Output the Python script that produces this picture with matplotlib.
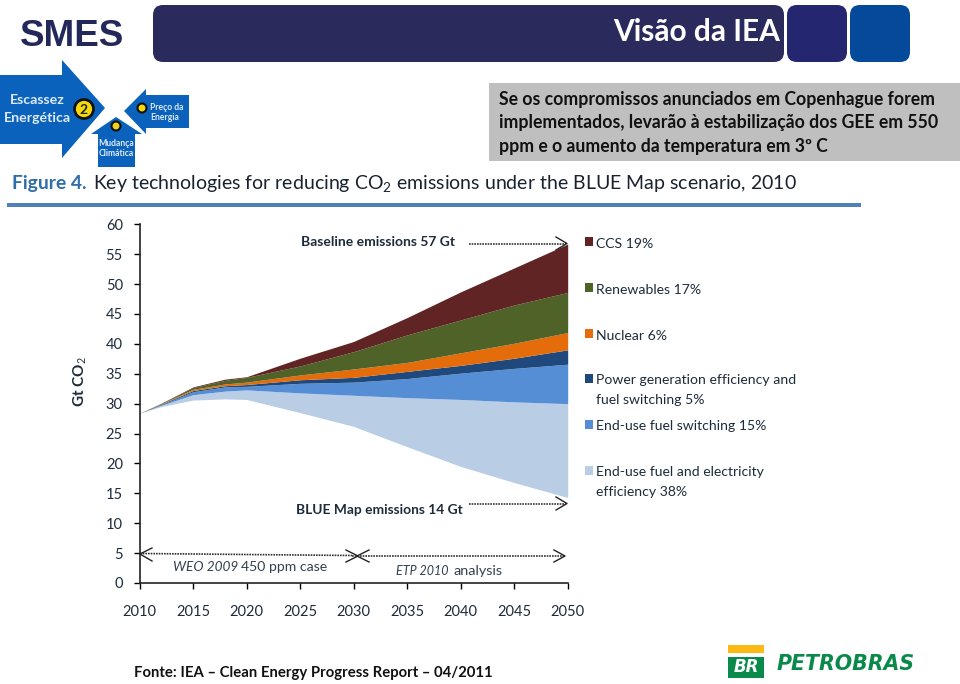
import matplotlib
matplotlib.use("Agg")
import matplotlib.pyplot as plt
from matplotlib.patches import FancyBboxPatch, Polygon, Rectangle, Circle

plt.rcParams["font.family"] = ["Lato", "DejaVu Sans"]
plt.rcParams["mathtext.fontset"] = "custom"
plt.rcParams["mathtext.rm"] = "Lato"
plt.rcParams["mathtext.default"] = "rm"

# Values, Gt CO2, upper edge of each wedge
years = [2010, 2012, 2015, 2018, 2020, 2025, 2030, 2035, 2040, 2045, 2050]
blue_map = [28.4, 29.5, 30.6, 30.8, 30.7, 28.5, 26.2, 22.8, 19.5, 16.8, 14.3]
end_use_eff = [28.4, 29.7, 31.5, 32.1, 32.3, 31.8, 31.4, 31.0, 30.7, 30.3, 30.0]
end_use_fuel = [28.4, 29.8, 32.0, 32.8, 32.9, 33.4, 33.6, 34.2, 35.1, 35.9, 36.6]
power_gen = [28.4, 29.9, 32.2, 33.0, 33.2, 34.0, 34.4, 35.4, 36.4, 37.6, 39.0]
nuclear = [28.4, 29.95, 32.4, 33.3, 33.6, 34.8, 35.8, 36.9, 38.5, 40.1, 41.9]
renewables = [28.4, 30.0, 32.7, 33.9, 34.4, 36.3, 38.7, 41.5, 44.0, 46.5, 48.6]
ccs = [28.4, 30.05, 32.8, 34.1, 34.5, 37.6, 40.4, 44.4, 48.7, 52.7, 56.7]

edges = [blue_map, end_use_eff, end_use_fuel, power_gen, nuclear, renewables, ccs]
wedge_colors = ["#b9cde5", "#558ed5", "#1f497d", "#e46c0a", "#4f6228", "#5f2423"]

legend_labels = ["CCS 19%", "Renewables 17%", "Nuclear 6%",
                 "Power generation efficiency and\nfuel switching 5%",
                 "End-use fuel switching 15%",
                 "End-use fuel and electricity\nefficiency 38%"]
legend_colors = ["#5f2423", "#4f6228", "#e46c0a", "#1f497d", "#558ed5", "#b9cde5"]
legend_y = [244, 290, 336, 381, 427, 473]

x_ticks = list(range(2010, 2051, 5))
y_ticks = list(range(0, 61, 5))

W, H = 960, 684
text_dark = "#1d2b3a"

fig = plt.figure(figsize=(W / 100, H / 100), dpi=100, facecolor="white")

# slide furniture is laid out in image pixels
bg = fig.add_axes([0, 0, 1, 1])
bg.set_xlim(0, W)
bg.set_ylim(H, 0)
bg.axis("off")

# the chart itself
left, right, top, bottom = 139.5, 567.7, 224.3, 583
ax = fig.add_axes([left / W, 1 - bottom / H, (right - left) / W, (bottom - top) / H])
ax.patch.set_alpha(0)
for low, high, color in zip(edges[:-1], edges[1:], wedge_colors):
    ax.fill_between(years, low, high, color=color, linewidth=0)
ax.set_xlim(2010, 2050)
ax.set_ylim(0, 60)
ax.spines["top"].set_visible(False)
ax.spines["right"].set_visible(False)
ax.spines["left"].set_linewidth(1.2)
ax.spines["bottom"].set_linewidth(1.2)
ax.spines["left"].set_color("#222222")
ax.spines["bottom"].set_color("#222222")
ax.set_xticks(x_ticks)
ax.set_yticks(y_ticks)
ax.tick_params(axis="x", direction="out", length=4, width=1, pad=12, labelsize=10.5, labelcolor=text_dark)
ax.tick_params(axis="y", direction="out", length=4, width=1, pad=8, labelsize=10.5, labelcolor=text_dark)
ax.set_ylabel("Gt CO$_2$", fontsize=11, fontweight="bold", color=text_dark)
ax.yaxis.set_label_coords(-0.118, 0.56)

# header
bg.text(20, 37, "SMES", family="Liberation Sans", fontsize=26.5, fontweight="bold", color="#23285a", va="center")
for x0, x1, color in [(153, 784, "#2b2a5c"), (787, 847, "#24276f"), (850, 910, "#054a9a")]:
    bg.add_patch(FancyBboxPatch((x0 + 8, 13), x1 - x0 - 16, 41, boxstyle="round,pad=8,rounding_size=10",
                                fc=color, ec="none"))
bg.text(780, 32, "Visão da IEA", fontsize=21.5, fontweight="bold", color="white", ha="right", va="center")

# arrows
arrow_blue = "#0a62bd"
bg.add_patch(Polygon([(0, 75), (62, 75), (62, 60), (105, 108), (62, 158), (62, 144), (0, 144)], fc=arrow_blue, ec="none"))
bg.add_patch(Polygon([(116, 117), (142, 134), (135, 134), (135, 167), (98, 167), (98, 134), (91, 134)], fc=arrow_blue, ec="none"))
bg.add_patch(Polygon([(124, 111), (146, 89), (146, 95), (189, 95), (189, 128), (146, 128), (146, 134)], fc=arrow_blue, ec="none"))
bg.text(37, 100, "Escassez", fontsize=10.2, fontweight="bold", color="#dfeaf7", ha="center", va="center")
bg.text(37, 118, "Energética", fontsize=10.2, fontweight="bold", color="#dfeaf7", ha="center", va="center")
bg.add_patch(Circle((84, 109), 9.5, fc="#f5d90a", ec="#111111", lw=2))
bg.text(84, 109.5, "2", fontsize=10, fontweight="bold", color="#222222", ha="center", va="center")
bg.add_patch(Circle((116, 126), 4.5, fc="#f0d020", ec="#111111", lw=1.5))
bg.add_patch(Circle((142, 108), 4.5, fc="#f5d90a", ec="#111111", lw=1.5))
bg.text(116, 143, "Mudança", fontsize=6.2, fontweight="bold", color="#dfeaf7", ha="center", va="center")
bg.text(116, 153, "Climática", fontsize=6.2, fontweight="bold", color="#dfeaf7", ha="center", va="center")
bg.text(150, 107, "Preço da", fontsize=6.2, fontweight="bold", color="#dfeaf7", va="center")
bg.text(150, 117, "Energia", fontsize=6.2, fontweight="bold", color="#dfeaf7", va="center")

# grey note
bg.add_patch(Rectangle((489, 83), 471, 78, fc="#bfbfbf", ec="none"))
note_lines = ["Se os compromissos anunciados em Copenhague forem",
              "implementados, levarão à estabilização dos GEE em 550",
              "ppm e o aumento da temperatura em 3º C"]
for y, line in zip([99.5, 122.5, 146.5], note_lines):
    bg.text(499, y, line, fontsize=12.7, fontweight="bold", color="#111111", va="center")

# figure caption
bg.text(12, 183, "Figure 4.", fontsize=13.9, fontweight="bold", color="#2f6ea8", va="center")
bg.text(93, 183, "Key technologies for reducing CO$_2$ emissions under the BLUE Map scenario, 2010",
        fontsize=14, color="#1a2230", va="center")
bg.add_patch(Rectangle((7, 203), 854, 3.5, fc="#4f81b8", ec="none"))

# legend
for y, label, color in zip(legend_y, legend_labels, legend_colors):
    bg.add_patch(Rectangle((585, y - 7), 8, 9, fc=color, ec="none"))
    bg.text(596.5, y - 6.5, label, fontsize=10.1, color=text_dark, va="top", linespacing=1.7)

# callouts inside the chart
dots = dict(color="#333333", lw=1.2, ls=(0, (1, 0.6)))
bg.text(301, 242, "Baseline emissions 57 Gt", fontsize=10, fontweight="bold", color=text_dark, va="center")
bg.plot([469, 566], [243.5, 243.5], **dots)
bg.plot([556, 567, 556], [237, 243.5, 250], color="#222222", lw=1)
bg.text(296, 510, "BLUE Map emissions 14 Gt", fontsize=9.9, fontweight="bold", color=text_dark, va="center")
bg.plot([469, 566], [503.5, 503.5], **dots)
bg.plot([556, 567, 556], [497, 503.5, 510], color="#222222", lw=1)

bg.plot([140, 352], [553.5, 555.5], **dots)
bg.plot([352, 564], [555.5, 555.5], **dots)
bg.plot([152, 140, 152], [548, 554, 561], color="#222222", lw=1)
bg.plot([346, 358, 346], [550, 556, 562], color="#222222", lw=1)
bg.plot([369, 357, 369], [550, 556, 562], color="#222222", lw=1)
bg.plot([554, 565, 554], [550, 556, 562], color="#222222", lw=1)
bg.text(173, 567, "WEO 2009", fontsize=9.8, style="italic", color="#33404f", va="center")
bg.text(241, 567, "450 ppm case", fontsize=10.1, color="#33404f", va="center")
bg.text(396, 571, "ETP 2010", fontsize=9, style="italic", color="#33404f", va="center")
bg.text(454, 571, "analysis", fontsize=10.4, color="#33404f", va="center")

# footer
bg.text(134, 673, "Fonte: IEA – Clean Energy Progress Report – 04/2011", fontsize=10.75, fontweight="bold", color="#111111", va="center")
bg.add_patch(Rectangle((728, 645), 36, 8, fc="#fcb813", ec="none"))
bg.add_patch(Rectangle((728, 657), 36, 21, fc="#0a8a4a", ec="none"))
bg.text(746, 667.5, "BR", family="DejaVu Sans", fontsize=12, fontweight="bold", style="italic", color="white", ha="center", va="center")
bg.text(777, 663.5, "PETROBRAS", family="DejaVu Sans", fontsize=14.8, fontweight="bold", style="italic", color="#0a8a4a", va="center")

fig.savefig("out.png", dpi=100)
